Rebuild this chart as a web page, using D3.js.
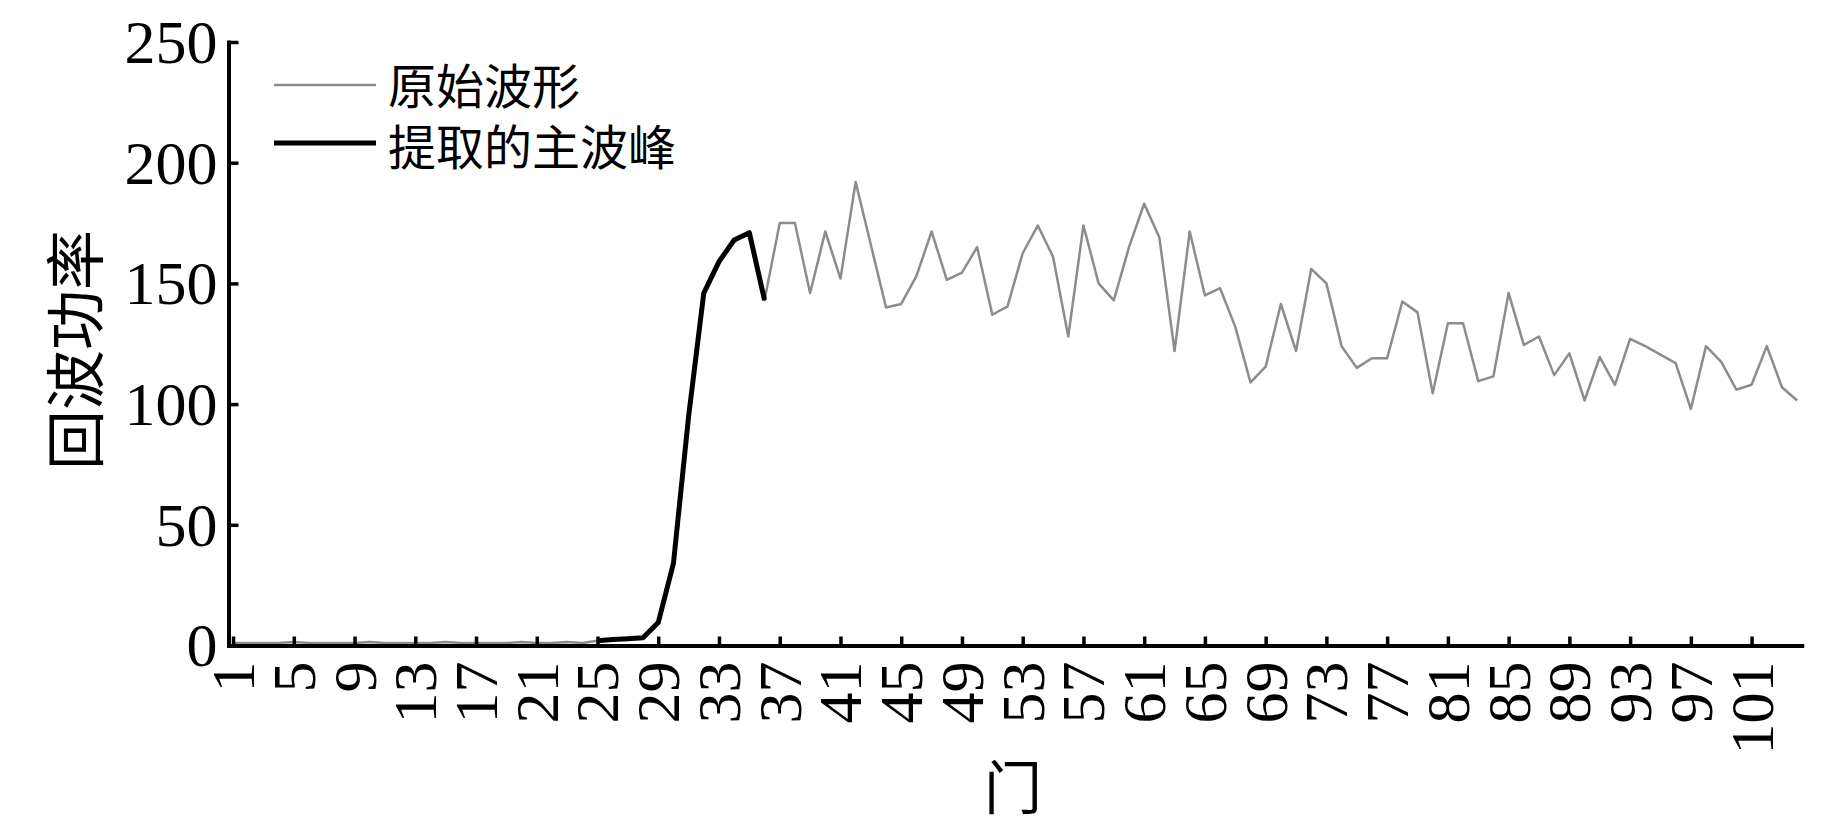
<!DOCTYPE html>
<html><head><meta charset="utf-8">
<script src="https://cdn.jsdelivr.net/npm/d3@7"></script>
<style>body{margin:0;background:#fff;overflow:hidden}</style>
</head><body>
<svg id="c" width="1843" height="827"></svg>
<script>
// ---- data ----
const gates = d3.range(1, 105);
const rawWave = [
  1,1,1,1,1.5,1,1,1,1,1.5,1,1,1,1,1.5,1,1,1,1,1.5,1,1,1.5,1,
  2,2.5,2.8,3.2,9.5,34,95,146,159,168,171,143,
  175,175,146,171.5,152,192,166,140,141.5,153,171.5,151.5,154.5,165,
  137,140.5,162.5,174,161,128,174,150,143,165,183,169,122,171.5,
  145,148,132,109,115.5,141.5,122,156,150,124,115,119,119,142.5,138,
  104.5,133.5,133.5,109.5,111.5,146,124.5,128,112,121,101.5,119.5,108,
  127,124,120.5,117,98,124,117.5,106,108,124,107,101.5
];
const peakGates = d3.range(25, 37);
const peakValues = [2,2.5,2.8,3.2,9.5,34,95,146,159,168,171,143];
const yTicks = [0,50,100,150,200,250];
const xTicks = d3.range(1, 102, 4);
const legendLabels = ["原始波形", "提取的主波峰"];
const yTitle = "回波功率";
const xTitle = "门";

// ---- drawing ----
const svg = d3.select("#c");
const x = d3.scaleLinear().domain([0.7, 104.3]).range([228.5, 1801.7]);
const y = d3.scaleLinear().domain([0, 250]).range([645.5, 42]);
const serif = "'Liberation Serif','Times New Roman',serif";
const cjk = "'Noto Sans CJK SC','Noto Sans CJK JP',sans-serif";
const legendFont = "'Liberation Serif','Noto Sans CJK SC','Noto Sans CJK JP',serif";

const line = d3.line().x(d => x(d[0])).y(d => y(d[1]));

svg.append("path")
  .datum(gates.map((g, i) => [g, rawWave[i]]))
  .attr("d", line).attr("fill", "none")
  .attr("stroke", "#8c8c8c").attr("stroke-width", 2.5)
  .attr("stroke-linejoin", "round");

svg.append("path")
  .datum(peakGates.map((g, i) => [g, peakValues[i]]))
  .attr("d", line).attr("fill", "none")
  .attr("stroke", "#000").attr("stroke-width", 5)
  .attr("stroke-linejoin", "round");

// axes
const xAxis = svg.append("g").attr("transform", `translate(0,${y(0)})`)
  .call(d3.axisBottom(x).tickValues(xTicks).tickSizeInner(-9).tickSizeOuter(0).tickPadding(0));
const yAxis = svg.append("g").attr("transform", `translate(${x.range()[0]},0)`)
  .call(d3.axisLeft(y).tickValues(yTicks).tickSizeInner(-10).tickSizeOuter(0).tickPadding(0));

[xAxis, yAxis].forEach(a => {
  a.select(".domain").attr("stroke", "#000").attr("stroke-width", 4).attr("stroke-linecap", "square");
  a.selectAll(".tick line").attr("stroke", "#000").attr("stroke-width", 3.5);
  a.selectAll(".tick text").attr("fill", "#000").style("font-family", serif).style("font-size", "62px");
});
xAxis.selectAll(".tick text")
  .attr("transform", "rotate(-90)")
  .attr("text-anchor", "end")
  .attr("x", -16).attr("y", 0).attr("dy", "0.33em");
yAxis.selectAll(".tick text")
  .attr("text-anchor", "end").attr("x", -11).attr("dy", "0.33em");

// axis titles
svg.append("text").text(yTitle)
  .attr("transform", "translate(71,350) rotate(-90)")
  .attr("text-anchor", "middle").attr("dominant-baseline", "central")
  .style("font-family", cjk).style("font-size", "60px").attr("fill", "#000");
svg.append("text").text(xTitle)
  .attr("x", 1013).attr("y", 784)
  .attr("text-anchor", "middle").attr("dominant-baseline", "central")
  .style("font-family", cjk).style("font-size", "58px").attr("fill", "#000");

// legend
const legendStyles = [{c: "#8c8c8c", w: 2.5}, {c: "#000", w: 5}];
const legendLineY = [85, 143];
const legendBaseY = [104, 165];
const lg = svg.append("g");
legendLabels.forEach((t, i) => {
  const ly = legendLineY[i];
  lg.append("line").attr("x1", 274).attr("x2", 376).attr("y1", ly).attr("y2", ly)
    .attr("stroke", legendStyles[i].c).attr("stroke-width", legendStyles[i].w);
  lg.append("text").text(t).attr("x", 388).attr("y", legendBaseY[i])
    .style("font-family", legendFont).style("font-size", "48px").attr("fill", "#000");
});
</script>
</body></html>
